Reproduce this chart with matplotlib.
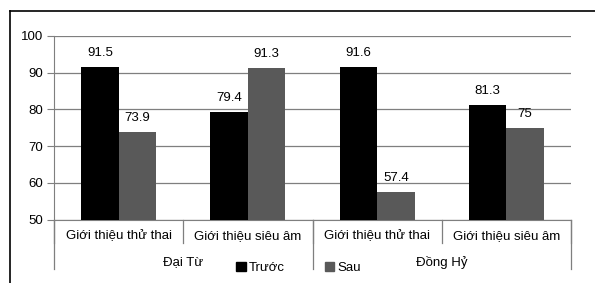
import numpy as np
import matplotlib
matplotlib.use("Agg")
import matplotlib.pyplot as plt
from matplotlib.lines import Line2D
from matplotlib.patches import Patch
import matplotlib.transforms as mtransforms

plt.rcParams["font.family"] = ["Liberation Sans", "DejaVu Sans"]

# -- Data --
categories = ["Giới thiệu thử thai", "Giới thiệu siêu âm",
              "Giới thiệu thử thai", "Giới thiệu siêu âm"]
groups = ["Đại Từ", "Đồng Hỷ"]
truoc = [91.5, 79.4, 91.6, 81.3]
sau = [73.9, 91.3, 57.4, 75]
truoc_labels = ["91.5", "79.4", "91.6", "81.3"]
sau_labels = ["73.9", "91.3", "57.4", "75"]
yticks = [50, 60, 70, 80, 90, 100]

BLACK = "#000000"
GRAY = "#595959"
LINE = "#7f7f7f"
FS = 9.5

fig = plt.figure(figsize=(5.95, 2.83), dpi=100, facecolor="white")
ax = fig.add_axes([54 / 595, 1 - 219.5 / 283, (571 - 54) / 595, (219.5 - 36) / 283])

x = np.arange(len(categories))
w = 0.29
b1 = ax.bar(x - w / 2, np.array(truoc) - 50, w, bottom=50, color=BLACK, zorder=3)
b2 = ax.bar(x + w / 2, np.array(sau) - 50, w, bottom=50, color=GRAY, zorder=3)

for bars, labels in [(b1, truoc_labels), (b2, sau_labels)]:
    for rect, lab in zip(bars, labels):
        ax.annotate(lab, (rect.get_x() + rect.get_width() / 2, rect.get_y() + rect.get_height()),
                    xytext=(0, 10), textcoords="offset points",
                    ha="center", va="center", fontsize=FS, color="black")

ax.set_xlim(-0.5, 3.5)
ax.set_ylim(50, 100)
ax.set_yticks(yticks)
ax.set_yticklabels([str(v) for v in yticks], fontsize=FS)
ax.tick_params(axis="y", length=5, color=LINE, pad=3)
ax.set_xticks([])
ax.grid(axis="y", color=LINE, linewidth=0.9, zorder=0)
ax.set_axisbelow(True)
for side in ["top", "right"]:
    ax.spines[side].set_visible(False)
ax.spines["left"].set_color(LINE)
ax.spines["bottom"].set_color(LINE)

# -- Two-level category axis --
trans = mtransforms.blended_transform_factory(ax.transData, ax.transAxes)
for xs in [-0.5, 0.5, 1.5, 2.5, 3.5]:
    ax.add_line(Line2D([xs, xs], [0, -0.128], transform=trans, color=LINE,
                       linewidth=0.9, clip_on=False))
for xs in [-0.5, 1.5, 3.5]:
    ax.add_line(Line2D([xs, xs], [0, -0.27], transform=trans, color=LINE,
                       linewidth=0.9, clip_on=False))
for xi, cat in zip(x, categories):
    ax.text(xi, -0.09, cat, transform=trans, ha="center", va="center", fontsize=FS)
for gi, g in enumerate(groups):
    ax.text(gi * 2 + 0.5, -0.232, g, transform=trans, ha="center", va="center", fontsize=FS)

# -- Legend --
handles = [Patch(color=BLACK, label="Trước"), Patch(color=GRAY, label="Sau")]
fig.legend(handles=handles, loc="center", bbox_to_anchor=(298.5 / 595, 1 - 268 / 283),
           ncol=2, frameon=False, fontsize=FS, handlelength=0.75, handleheight=0.75,
           handletextpad=0.2, columnspacing=3.0, borderpad=0, borderaxespad=0)

# -- Outer border (left and top only visible) --
fig.add_artist(Line2D([10 / 595, 10 / 595], [0, 1 - 11 / 283], color="black", linewidth=1.2))
fig.add_artist(Line2D([10 / 595, 1], [1 - 11 / 283, 1 - 11 / 283], color="black", linewidth=1.2))

fig.savefig("out.png", dpi=100, facecolor="white")
